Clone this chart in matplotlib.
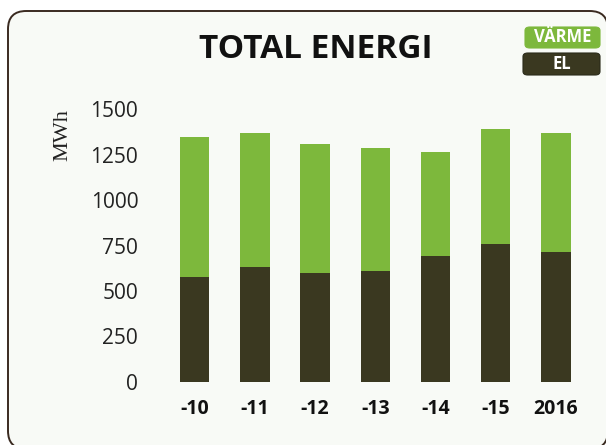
import matplotlib
matplotlib.use("Agg")
import matplotlib.pyplot as plt
from matplotlib.patches import FancyBboxPatch

years = ["-10", "-11", "-12", "-13", "-14", "-15", "2016"]
el = [578, 631, 600, 611, 695, 758, 715]
varme = [769, 738, 707, 674, 569, 631, 654]
yticks = [0, 250, 500, 750, 1000, 1250, 1500]

GREEN = "#7db83c"
DARK = "#3a3820"
BG = "#f8faf6"

W, H = 606, 445
fig = plt.figure(figsize=(W / 100, H / 100), dpi=100)
fig.patch.set_facecolor("white")

# rounded frame
frame = FancyBboxPatch((8 / W, -4 / H), 0.99, 1 - 11 / H + 4 / H,
                       boxstyle="round,pad=0,rounding_size=0.03",
                       transform=fig.transFigure, facecolor=BG,
                       edgecolor="#3a2a20", linewidth=1.4, zorder=-5,
                       mutation_aspect=W / H)
fig.patches.append(frame)

ax = fig.add_axes([164.6 / W, 1 - 382 / H, (586 - 164.6) / W, (382 - 109) / H])
ax.set_zorder(2)
ax.set_facecolor("none")
ax.patch.set_alpha(0)
x = list(range(len(years)))
ax.bar(x, el, width=0.49, color=DARK, zorder=2)
ax.bar(x, varme, width=0.49, bottom=el, color=GREEN, zorder=2)
ax.set_xlim(-0.5, len(years) - 0.5)
ax.set_ylim(0, 1500)
ax.set_yticks(yticks)
ax.set_yticklabels([str(v) for v in yticks], fontfamily="Open Sans",
                   fontsize=15, color="#222222")
ax.set_xticks(x)
ax.set_xticklabels(years, fontfamily="Open Sans", fontweight="bold",
                   fontsize=14, color="#111111")
ax.tick_params(axis="y", length=0, pad=19)
ax.tick_params(axis="x", length=0, pad=12)
for s in ax.spines.values():
    s.set_visible(False)

fig.text(316 / W, 1 - 50 / H, "TOTAL ENERGI", ha="center", va="center",
         fontfamily="Open Sans", fontweight="bold", fontsize=24,
         color="#111111", zorder=5)
fig.text(63 / W, 1 - 135 / H, "MWh", rotation=90, ha="center", va="center",
         fontfamily="Liberation Serif", fontsize=16, color="#222222", zorder=5)

# legend boxes
for (x0, y0, x1, y1, col, lab) in [(525, 27, 600, 48, GREEN, "VÄRME"),
                                   (523, 53, 600, 75, DARK, "EL")]:
    box = FancyBboxPatch((x0 / W, 1 - y1 / H), (x1 - x0) / W, (y1 - y0) / H,
                         boxstyle="round,pad=0,rounding_size=0.008",
                         transform=fig.transFigure, facecolor=col,
                         edgecolor="#2a2a1a" if col == DARK else col,
                         linewidth=0.8, zorder=3)
    fig.patches.append(box)
    fig.text((x0 + x1) / 2 / W, 1 - (y0 + y1) / 2 / H, lab, ha="center",
             va="center", fontfamily="Open Sans", fontweight="bold",
             fontsize=12, color="white", zorder=6)

fig.savefig("out.png", dpi=100)
